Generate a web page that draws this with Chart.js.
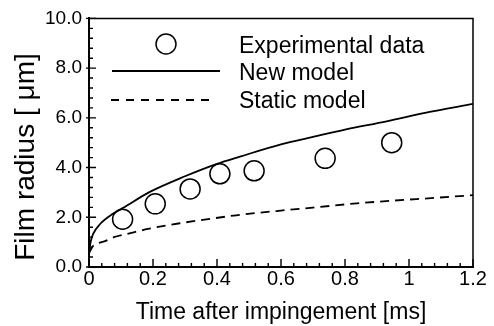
<!DOCTYPE html>
<html>
<head>
<meta charset="utf-8">
<script src="https://cdn.jsdelivr.net/npm/chart.js@4/dist/chart.umd.min.js"></script>
<style>
html,body{margin:0;padding:0;background:#fff;}
canvas{display:block;}
</style>
</head>
<body>
<canvas id="c" width="494" height="326"></canvas>
<script>
// Experimental data (circles)
const expT = [0.105, 0.207, 0.316, 0.409, 0.516, 0.738, 0.946];
const expR = [1.92, 2.54, 3.14, 3.75, 3.87, 4.37, 5.00];
// New model (solid line)
const newT = [0, 0.005, 0.013, 0.034, 0.076, 0.107, 0.19, 0.3, 0.4, 0.472, 0.6, 0.7, 0.8, 0.93, 1.05, 1.2];
const newR = [0.5, 1.0, 1.33, 1.72, 2.15, 2.38, 3.02, 3.65, 4.15, 4.44, 4.93, 5.23, 5.53, 5.86, 6.2, 6.56];
// Static model (dashed line)
const staticT = [0, 0.01, 0.024, 0.05, 0.076, 0.12, 0.18, 0.284, 0.38, 0.46, 0.6, 0.7, 0.837, 0.95, 1.08, 1.2];
const staticR = [0.55, 0.8, 0.93, 1.04, 1.19, 1.33, 1.52, 1.76, 1.94, 2.08, 2.27, 2.39, 2.56, 2.67, 2.78, 2.89];
// Tick labels and positions
const xTickValues = [0, 0.2, 0.4, 0.6, 0.8, 1.0, 1.2];
const xTickLabels = ['0', '0.2', '0.4', '0.6', '0.8', '1', '1.2'];
const yTickValues = [0, 2, 4, 6, 8, 10];
const yTickLabels = ['0.0', '2.0', '4.0', '6.0', '8.0', '10.0'];
const xMinorTicks = [0.04, 0.08, 0.12, 0.16, 0.24, 0.28, 0.32, 0.36, 0.44, 0.48, 0.52, 0.56, 0.64, 0.68, 0.72, 0.76, 0.84, 0.88, 0.92, 0.96, 1.04, 1.08, 1.12, 1.16];
const yMinorTicks = [0.4, 0.8, 1.2, 1.6, 2.4, 2.8, 3.2, 3.6, 4.4, 4.8, 5.2, 5.6, 6.4, 6.8, 7.2, 7.6, 8.4, 8.8, 9.2, 9.6];
const seriesNames = ['Experimental data', 'New model', 'Static model'];
const xTitle = 'Time after impingement [ms]';
const yTitle = 'Film radius [ μm]';

const FONT = '"Liberation Sans", Arial, Helvetica, sans-serif';

const framePlugin = {
  id: 'frame',
  afterDatasetsDraw(chart) {
    const {ctx, chartArea: a, scales: {x, y}} = chart;
    ctx.save();
    ctx.strokeStyle = '#000';
    ctx.lineCap = 'butt';
    // top & right frame
    ctx.lineWidth = 1.5;
    ctx.beginPath();
    ctx.moveTo(a.left, a.top);
    ctx.lineTo(a.right, a.top);
    ctx.lineTo(a.right, a.bottom);
    ctx.stroke();
    // ticks
    ctx.lineWidth = 1.4;
    ctx.beginPath();
    xMinorTicks.forEach(v => { const p = x.getPixelForValue(v); ctx.moveTo(p, a.bottom); ctx.lineTo(p, a.bottom - 4); });
    xTickValues.forEach(v => { const p = x.getPixelForValue(v); ctx.moveTo(p, a.bottom); ctx.lineTo(p, a.bottom - 8); });
    yMinorTicks.forEach(v => { const p = y.getPixelForValue(v); ctx.moveTo(a.left, p); ctx.lineTo(a.left + 4, p); });
    yTickValues.forEach(v => { const p = y.getPixelForValue(v); ctx.moveTo(a.left - 3, p); ctx.lineTo(a.left + 7, p); });
    ctx.stroke();
    ctx.restore();
  },
  afterDraw(chart) {
    const {ctx} = chart;
    ctx.save();
    ctx.fillStyle = '#000';
    ctx.strokeStyle = '#000';
    // legend
    ctx.lineWidth = 1.5;
    ctx.beginPath();
    ctx.arc(166, 44, 10, 0, Math.PI * 2);
    ctx.stroke();
    ctx.lineWidth = 1.8;
    ctx.beginPath();
    ctx.moveTo(112, 71); ctx.lineTo(220, 71);
    ctx.stroke();
    ctx.setLineDash([8, 7]);
    ctx.beginPath();
    ctx.moveTo(111, 100); ctx.lineTo(216, 100);
    ctx.stroke();
    ctx.setLineDash([]);
    ctx.font = '23px ' + FONT;
    ctx.textBaseline = 'alphabetic';
    ctx.textAlign = 'left';
    ctx.fillText(seriesNames[0], 239, 53);
    ctx.fillText(seriesNames[1], 239, 80);
    ctx.fillText(seriesNames[2], 239, 108);
    // y title
    ctx.translate(34, 157);
    ctx.rotate(-Math.PI / 2);
    ctx.font = '28px ' + FONT;
    ctx.textAlign = 'center';
    ctx.textBaseline = 'alphabetic';
    ctx.fillText(yTitle, 0, 0);
    ctx.restore();
  }
};

new Chart(document.getElementById('c'), {
  type: 'scatter',
  data: {
    datasets: [
      {
        label: seriesNames[0],
        data: expT.map((t, i) => ({x: t, y: expR[i]})),
        showLine: false,
        pointStyle: 'circle',
        pointRadius: 10,
        pointBorderWidth: 1.5,
        pointBorderColor: '#000',
        pointBackgroundColor: 'rgba(0,0,0,0)'
      },
      {
        label: seriesNames[1],
        data: newT.map((t, i) => ({x: t, y: newR[i]})),
        showLine: true,
        borderColor: '#000',
        borderWidth: 1.8,
        pointRadius: 0,
        cubicInterpolationMode: 'monotone'
      },
      {
        label: seriesNames[2],
        data: staticT.map((t, i) => ({x: t, y: staticR[i]})),
        showLine: true,
        borderColor: '#000',
        borderWidth: 1.8,
        borderDash: [9, 6],
        pointRadius: 0,
        cubicInterpolationMode: 'monotone'
      }
    ]
  },
  options: {
    responsive: false,
    animation: false,
    devicePixelRatio: 1,
    layout: {padding: {top: 15, right: 21, left: 0, bottom: 0}},
    plugins: {legend: {display: false}, tooltip: {enabled: false}},
    scales: {
      x: {
        type: 'linear',
        min: 0, max: 1.2,
        afterFit(s) { s.height = 59; },
        afterBuildTicks(s) { s.ticks = xTickValues.map(v => ({value: v})); },
        grid: {display: false, drawTicks: false},
        border: {display: true, color: '#000', width: 2},
        ticks: {
          padding: 0,
          color: '#000',
          font: {family: FONT, size: 20},
          maxRotation: 0,
          autoSkip: false,
          callback(v) { const i = xTickValues.findIndex(t => Math.abs(t - v) < 1e-6); return i >= 0 ? xTickLabels[i] : ''; }
        },
        title: {
          display: true,
          text: xTitle,
          color: '#000',
          font: {family: FONT, size: 23},
          padding: {top: 0, bottom: 0}
        }
      },
      y: {
        type: 'linear',
        min: 0, max: 10,
        afterFit(s) { s.width = 89; },
        afterBuildTicks(s) { s.ticks = yTickValues.map(v => ({value: v})); },
        grid: {display: false, drawTicks: false},
        border: {display: true, color: '#000', width: 2},
        ticks: {
          padding: 7,
          color: '#000',
          font: {family: FONT, size: 19},
          autoSkip: false,
          callback(v) { const i = yTickValues.findIndex(t => Math.abs(t - v) < 1e-6); return i >= 0 ? yTickLabels[i] : ''; }
        }
      }
    }
  },
  plugins: [framePlugin]
});
</script>
</body>
</html>
